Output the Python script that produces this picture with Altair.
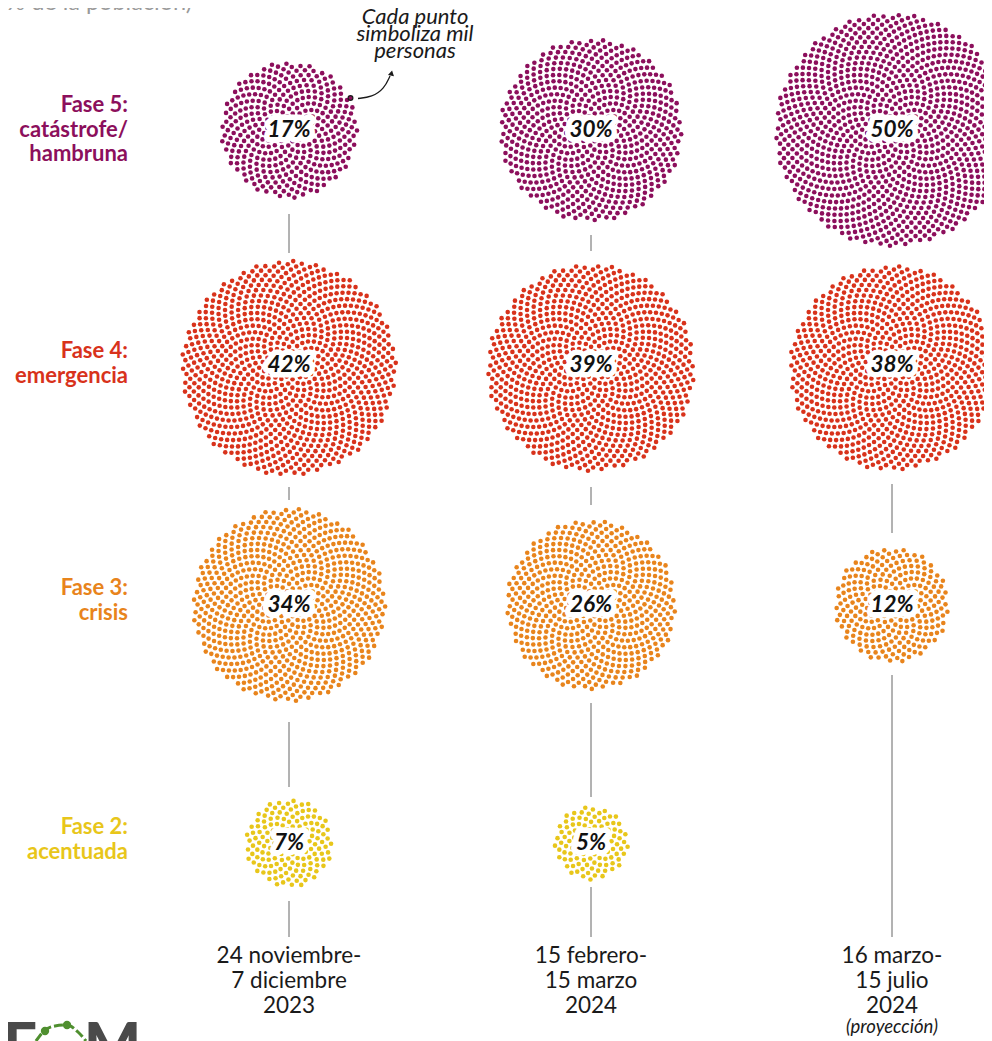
import altair as alt
import pandas as pd

# --- values ---
periods = ["24 noviembre-\n7 diciembre\n2023", "15 febrero-\n15 marzo\n2024", "16 marzo-\n15 julio\n2024"]
phases = ["Fase 5:\ncatástrofe/\nhambruna", "Fase 4:\nemergencia", "Fase 3:\ncrisis", "Fase 2:\nacentuada"]
pct_col1 = [17, 42, 34, 7]
pct_col2 = [30, 39, 26, 5]
pct_col3 = [50, 38, 12, 0]
# thousands of people (one dot = one thousand), estimated from percentage and cluster area
dots_col1 = [378, 939, 757, 156]
dots_col2 = [677, 875, 585, 111]
dots_col3 = [1107, 854, 267, 0]
note = "Cada punto\nsimboliza mil\npersonas"
proj = "(proyección)"
subtitle = "(% de la población)"

# --- layout and style (page-pixel scale) ---
col_x = [289, 591, 892]
row_y = [130, 368, 605, 843]
pct_y = [129, 364, 604, 842]
phase_label_y = [105, 351, 588, 827]
phase_colors = ["#8c0f5c", "#d8321b", "#e8841c", "#e8c61a"]
label_colors = ["#8f1159", "#d5321c", "#e67e14", "#e8c51a"]
spacing = 3.5
golden = 2.39996323

connectors = [  # column, from, to
    (0, 214, 253), (0, 487, 500), (0, 722, 787), (0, 901, 937),
    (1, 235, 251), (1, 487, 505), (1, 703, 797), (1, 887, 937),
    (2, 484, 533), (2, 675, 937),
]
arrow_path = [(358, 98.5), (372, 97), (384, 89), (390, 76)]
logo_arc = [(36, 1041), (44, 1031), (55, 1026), (67, 1025), (78, 1032), (86, 1041)]
logo_knots = [(45, 1031), (67, 1025)]

W, H = 976, 1033
X = lambda f: alt.X(f, type="quantitative", axis=None, scale=alt.Scale(domain=[8, 984], range=[0, W], nice=False, zero=False))
Y = lambda f: alt.Y(f, type="quantitative", axis=None, scale=alt.Scale(domain=[8, 1041], range=[0, H], nice=False, zero=False))
FONT = "Lato"

all_pct = [pct_col1, pct_col2, pct_col3]
all_dots = [dots_col1, dots_col2, dots_col3]
clusters = pd.DataFrame([
    {"cx": col_x[c], "cy": row_y[r], "n": all_dots[c][r], "phase": str(r)}
    for c in range(3) for r in range(4) if all_dots[c][r] > 0
])
pct_df = pd.DataFrame([
    {"x": col_x[c], "y": pct_y[r] + 1, "t": f"{all_pct[c][r]}%"}
    for c in range(3) for r in range(4) if all_pct[c][r] > 0
])

dots = (
    alt.Chart(clusters)
    .transform_calculate(i="sequence(0, datum.n)")
    .transform_flatten(["i"])
    .transform_calculate(
        px=f"datum.cx + {spacing} * sqrt(datum.i + 0.5) * cos(datum.i * {golden})",
        py=f"datum.cy + {spacing} * sqrt(datum.i + 0.5) * sin(datum.i * {golden})",
    )
    .mark_circle(size=21, opacity=1)
    .encode(
        x=X("px"), y=Y("py"),
        color=alt.Color("phase:N", legend=None,
                        scale=alt.Scale(domain=["0", "1", "2", "3"], range=phase_colors)),
    )
)

rules = (
    alt.Chart(pd.DataFrame([{"x": col_x[c], "a": a, "b": b} for c, a, b in connectors]))
    .mark_rule(color="#666666", strokeWidth=1)
    .encode(x=X("x"), y=Y("a"), y2="b:Q")
)

pct_halo = alt.Chart(pct_df).mark_text(
    font=FONT, fontSize=22.5, fontStyle="italic", fontWeight="bold",
    stroke="white", strokeWidth=11, strokeJoin="round", fill="white",
).encode(x=X("x"), y=Y("y"), text="t:N")
pct_text = alt.Chart(pct_df).mark_text(
    font=FONT, fontSize=22.5, fontStyle="italic", fontWeight="bold", color="#111111",
).encode(x=X("x"), y=Y("y"), text="t:N")

phase_df = pd.DataFrame({"x": [128] * 4, "y": phase_label_y, "t": phases, "phase": ["0", "1", "2", "3"]})
phase_text = alt.Chart(phase_df).mark_text(
    font=FONT, fontSize=22, fontWeight="bold", align="right", lineBreak="\n", lineHeight=24.5,
).encode(
    x=X("x"), y=Y("y"), text="t:N",
    color=alt.Color("phase:N", legend=None, scale=alt.Scale(domain=["0", "1", "2", "3"], range=label_colors)),
)

period_df = pd.DataFrame({"x": col_x, "y": [956] * 3, "t": periods})
period_text = alt.Chart(period_df).mark_text(
    font=FONT, fontSize=22.5, color="#1a1a1a", lineBreak="\n", lineHeight=25,
).encode(x=X("x"), y=Y("y"), text="t:N")

proj_text = alt.Chart(pd.DataFrame({"x": [col_x[2]], "y": [1027], "t": [proj]})).mark_text(
    font=FONT, fontSize=18.5, fontStyle="italic", color="#1a1a1a",
).encode(x=X("x"), y=Y("y"), text="t:N")

note_text = alt.Chart(pd.DataFrame({"x": [415], "y": [17], "t": [note]})).mark_text(
    font=FONT, fontSize=22, fontStyle="italic", color="#1a1a1a", lineBreak="\n", lineHeight=17,
).encode(x=X("x"), y=Y("y"), text="t:N")

sub_text = alt.Chart(pd.DataFrame({"x": [0], "y": [10], "t": [subtitle]})).mark_text(
    font=FONT, fontSize=23.5, color="#9a9a9a", align="left", baseline="alphabetic",
).encode(x=X("x"), y=Y("y"), text="t:N")

marked_dot = alt.Chart(pd.DataFrame({"x": [350.5], "y": [98]})).mark_point(
    filled=True, size=22, fill="#8c0f5c", stroke="#1a1a1a", strokeWidth=1.3, opacity=1, shape="circle",
).encode(x=X("x"), y=Y("y"))

arrow_df = pd.DataFrame(arrow_path, columns=["x", "y"]).reset_index()
arrow_line = alt.Chart(arrow_df).mark_line(color="#1a1a1a", strokeWidth=1.3, interpolate="basis").encode(
    x=X("x"), y=Y("y"), order="index:O")
arrow_head = alt.Chart(pd.DataFrame({"x": [391.5], "y": [73]})).mark_point(
    filled=True, shape="triangle-up", size=38, color="#1a1a1a", opacity=1, angle=12,
).encode(x=X("x"), y=Y("y"))

logo_letters = alt.Chart(pd.DataFrame({"x": [37, 141], "y": [1066, 1066], "t": ["F", "M"]})).mark_text(
    font=FONT, fontSize=60, fontWeight=900, color="#4a4a4a", align="right", baseline="alphabetic",
).encode(x=X("x"), y=Y("y"), text="t:N")
logo_line = alt.Chart(pd.DataFrame(logo_arc, columns=["x", "y"]).reset_index()).mark_line(
    color="#4f8f2f", strokeWidth=3, interpolate="monotone", strokeDash=[9, 3]).encode(
    x=X("x"), y=Y("y"), order="index:O")
logo_dots = alt.Chart(pd.DataFrame(logo_knots, columns=["x", "y"])).mark_circle(
    color="#4f8f2f", size=70, opacity=1).encode(x=X("x"), y=Y("y"))

chart = alt.layer(
    rules, dots, marked_dot, pct_halo, pct_text, phase_text, period_text, proj_text,
    note_text, sub_text, arrow_line, arrow_head, logo_letters, logo_line, logo_dots,
).properties(
    width=W, height=H, padding=0, background="white",
    autosize=alt.AutoSizeParams(type="none"),
).configure_view(stroke=None)

chart.save("out.html", embed_options={"renderer": "svg", "actions": False})
